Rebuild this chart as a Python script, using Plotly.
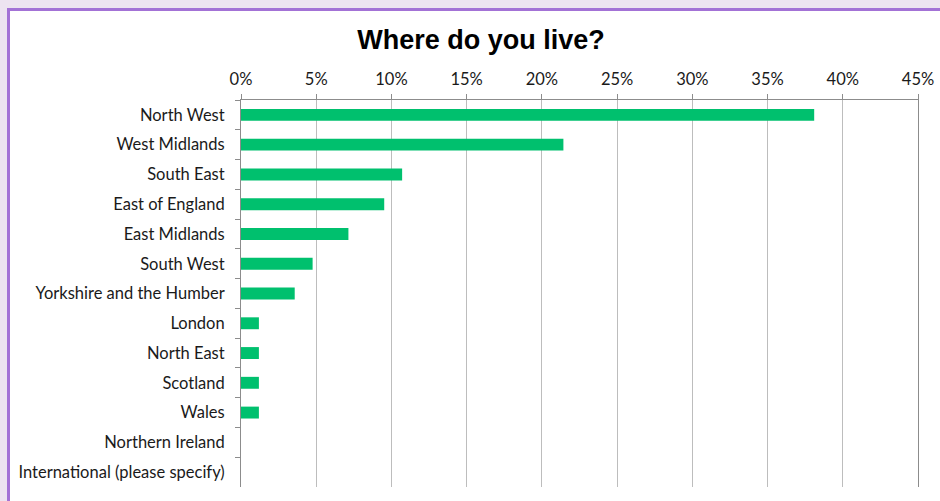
import plotly.graph_objects as go

# Survey answers: share of respondents by region
regions = [
    "North West",
    "West Midlands",
    "South East",
    "East of England",
    "East Midlands",
    "South West",
    "Yorkshire and the Humber",
    "London",
    "North East",
    "Scotland",
    "Wales",
    "Northern Ireland",
    "International (please specify)",
]
share_pct = [38.10, 21.43, 10.71, 9.52, 7.14, 4.76, 3.57, 1.19, 1.19, 1.19, 1.19, 0, 0]

x_ticks = [0, 5, 10, 15, 20, 25, 30, 35, 40, 45]
x_tick_text = [f"{v}%" for v in x_ticks]

W, H = 940, 501
ML, MR, MT, MB = 241, 22, 100, 14
plot_w = W - ML - MR
plot_h = H - MT - MB

label_font = dict(family="Lato, Carlito, Calibri, sans-serif", size=16.5, color="#1a1a1a")

fig = go.Figure(
    go.Bar(
        x=share_pct,
        y=regions,
        orientation="h",
        marker=dict(color="#00C06E", line=dict(width=0)),
        hoverinfo="x+y",
    )
)

# white card with a purple frame, running off the right and bottom edges
px_to_x = lambda px: (px - ML) / plot_w
py_to_y = lambda py: (H - MB - py) / plot_h
fig.add_shape(
    type="rect",
    xref="paper", yref="paper",
    x0=px_to_x(8.5), x1=px_to_x(W + 20),
    y0=py_to_y(H + 20), y1=py_to_y(9.5),
    fillcolor="white",
    line=dict(color="#A372D6", width=3),
    layer="below",
)

fig.update_layout(
    width=W,
    height=H,
    margin=dict(l=ML, r=MR, t=MT, b=MB, pad=0, autoexpand=False),
    paper_bgcolor="#EDE4F1",
    plot_bgcolor="rgba(0,0,0,0)",
    showlegend=False,
    bargap=0.6,
    title=dict(
        text="<b>Where do you live?</b>",
        font=dict(family="Arial, Liberation Sans, sans-serif", size=27, color="black"),
        x=481 / W,
        xanchor="center",
        xref="container",
        y=1 - 40 / H,
        yanchor="middle",
        yref="container",
    ),
    xaxis=dict(
        side="top",
        range=[0, 45],
        tickvals=x_ticks,
        ticktext=x_tick_text,
        tickfont=label_font,
        showgrid=True,
        gridcolor="#BDBDBD",
        gridwidth=1,
        showline=True,
        linecolor="#8C8C8C",
        linewidth=1,
        ticks="outside",
        ticklen=5,
        tickcolor="#8C8C8C",
        ticklabelstandoff=2,
        zeroline=False,
        automargin=False,
        fixedrange=True,
    ),
    yaxis=dict(
        categoryorder="array",
        categoryarray=regions,
        autorange="reversed",
        tickfont=label_font,
        showgrid=False,
        showline=True,
        mirror=True,
        linecolor="#8C8C8C",
        linewidth=1,
        ticks="outside",
        tickson="boundaries",
        ticklen=5,
        tickcolor="#8C8C8C",
        ticklabelstandoff=12,
        zeroline=False,
        automargin=False,
        fixedrange=True,
    ),
)

fig.write_html("out.html")
